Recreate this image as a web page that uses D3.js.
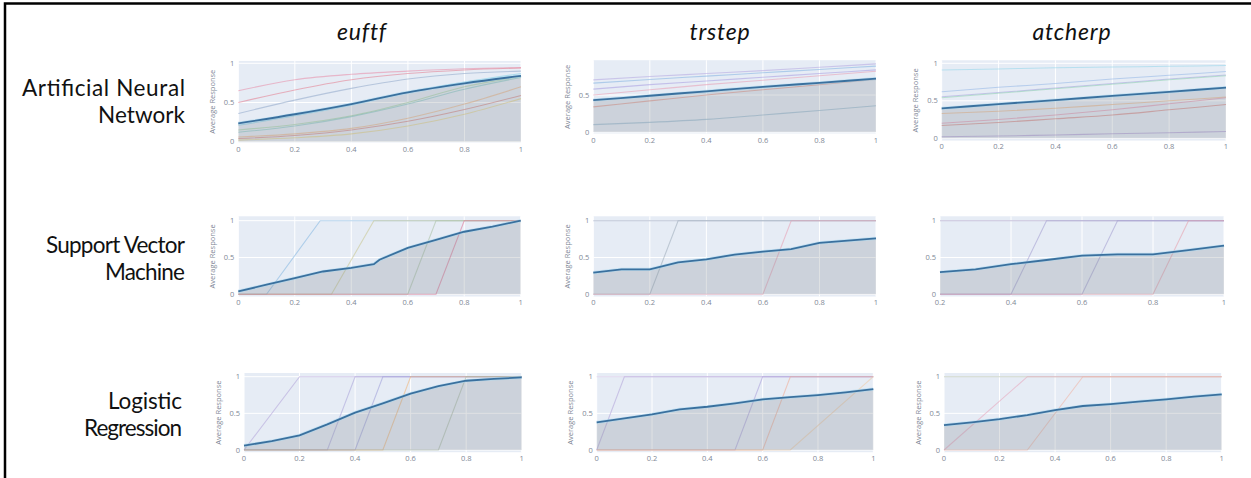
<!DOCTYPE html>
<html>
<head>
<meta charset="utf-8">
<script src="https://cdn.jsdelivr.net/npm/d3@7"></script>
<style>
  body { margin: 0; background: #ffffff; }
  svg { display: block; }
</style>
</head>
<body>
<svg id="chart"></svg>
<script>
/*
 * Data.
 */
const col_titles = ['euftf', 'trstep', 'atcherp'];
const row_titles = [['Artificial Neural', 'Network'], ['Support Vector', 'Machine'], ['Logistic', 'Regression']];

const x_ticks = [0, 0.2, 0.4, 0.6, 0.8, 1];
const x_ticks_svm_atcherp = [0.2, 0.4, 0.6, 0.8, 1];
const y_ticks = [0, 0.5, 1];
const y_ticks_ann_trstep = [0, 0.5];

const x_ann = [0, 0.2, 0.4, 0.6, 0.8, 1];
const x_tenth = [0, 0.1, 0.2, 0.3, 0.4, 0.5, 0.6, 0.7, 0.8, 0.9, 1];
const x_svm_euftf = [0, 0.1, 0.2, 0.3, 0.4, 0.48, 0.5, 0.6, 0.7, 0.8, 0.9, 1];
const x_svm_atcherp = [0.2, 0.3, 0.4, 0.5, 0.6, 0.7, 0.8, 0.9, 1];

// average response (thick line + fill)
const avg_ann_euftf = [0.234, 0.35, 0.48, 0.63, 0.745, 0.84];
const avg_ann_trstep = [0.43, 0.49, 0.55, 0.61, 0.665, 0.72];
const avg_ann_atcherp = [0.40, 0.455, 0.51, 0.565, 0.62, 0.675];
const avg_svm_euftf = [0.04, 0.13, 0.22, 0.31, 0.36, 0.41, 0.47, 0.63, 0.74, 0.85, 0.92, 1.0];
const avg_svm_trstep = [0.294, 0.34, 0.34, 0.434, 0.475, 0.54, 0.58, 0.615, 0.70, 0.73, 0.76];
const avg_svm_atcherp = [0.30, 0.34, 0.41, 0.466, 0.525, 0.543, 0.543, 0.60, 0.66];
const avg_lr_euftf = [0.06, 0.12, 0.20, 0.35, 0.51, 0.636, 0.77, 0.87, 0.945, 0.97, 0.99];
const avg_lr_trstep = [0.377, 0.43, 0.486, 0.555, 0.59, 0.636, 0.69, 0.72, 0.75, 0.786, 0.83];
const avg_lr_atcherp = [0.34, 0.377, 0.42, 0.477, 0.545, 0.60, 0.627, 0.66, 0.69, 0.727, 0.76];

// individual lines (ANN: values at x_ann)
const ice_ann_euftf = [
  [0.65, 0.79, 0.86, 0.90, 0.93, 0.945],
  [0.50, 0.66, 0.79, 0.87, 0.915, 0.94],
  [0.36, 0.53, 0.68, 0.80, 0.87, 0.90],
  [0.21, 0.33, 0.47, 0.63, 0.76, 0.87],
  [0.15, 0.22, 0.33, 0.50, 0.70, 0.83],
  [0.12, 0.20, 0.32, 0.48, 0.67, 0.82],
  [0.06, 0.10, 0.17, 0.30, 0.48, 0.70],
  [0.04, 0.08, 0.15, 0.26, 0.41, 0.59],
  [0.02, 0.05, 0.10, 0.20, 0.35, 0.55],
];
const ice_ann_trstep = [
  [0.705, 0.75, 0.79, 0.83, 0.875, 0.92],
  [0.66, 0.71, 0.755, 0.80, 0.845, 0.89],
  [0.58, 0.64, 0.69, 0.74, 0.79, 0.84],
  [0.50, 0.57, 0.64, 0.70, 0.76, 0.82],
  [0.34, 0.42, 0.50, 0.57, 0.64, 0.71],
  [0.10, 0.13, 0.17, 0.23, 0.29, 0.355],
];
const ice_ann_atcherp = [
  [0.91, 0.925, 0.94, 0.95, 0.96, 0.97],
  [0.62, 0.68, 0.73, 0.79, 0.84, 0.89],
  [0.555, 0.61, 0.67, 0.73, 0.79, 0.845],
  [0.54, 0.60, 0.66, 0.72, 0.78, 0.835],
  [0.33, 0.36, 0.40, 0.45, 0.50, 0.55],
  [0.20, 0.25, 0.31, 0.38, 0.46, 0.54],
  [0.17, 0.21, 0.26, 0.31, 0.38, 0.45],
  [0.02, 0.03, 0.045, 0.06, 0.075, 0.09],
];

// individual lines (SVM / LR: [x, y] points)
const ice_svm_euftf = [
  [[0, 0], [0.1, 0], [0.29, 1], [1, 1]],
  [[0, 0], [0.33, 0], [0.48, 1], [1, 1]],
  [[0, 0], [0.6, 0], [0.7, 1], [1, 1]],
  [[0, 0], [0.7, 0], [0.8, 1], [1, 1]],
];
const ice_svm_trstep = [
  [[0, 1], [1, 1]],
  [[0, 0], [0.2, 0], [0.3, 1], [1, 1]],
  [[0, 0], [0.6, 0], [0.7, 1], [1, 1]],
];
const ice_svm_atcherp = [
  [[0.2, 1], [1, 1]],
  [[0.2, 0], [0.4, 0], [0.5, 1], [1, 1]],
  [[0.2, 0], [0.6, 0], [0.7, 1], [1, 1]],
  [[0.2, 0], [0.8, 0], [0.9, 1], [1, 1]],
];
const ice_lr_euftf = [
  [[0, 0], [0.2, 1], [1, 1]],
  [[0, 0], [0.3, 0], [0.4, 1], [1, 1]],
  [[0, 0], [0.4, 0], [0.5, 1], [1, 1]],
  [[0, 0], [0.5, 0], [0.6, 1], [1, 1]],
  [[0, 0], [0.7, 0], [0.8, 1], [1, 1]],
];
const ice_lr_trstep = [
  [[0, 1], [1, 1]],
  [[0, 0], [0.1, 1], [1, 1]],
  [[0, 0], [0.5, 0], [0.6, 1], [1, 1]],
  [[0, 0], [0.6, 0], [0.7, 1], [1, 1]],
  [[0, 0], [0.7, 0], [1, 1]],
];
const ice_lr_atcherp = [
  [[0, 1], [1, 1]],
  [[0, 0], [0.3, 1], [1, 1]],
  [[0, 0], [0.3, 0], [0.5, 1], [1, 1]],
];

/*
 * Layout and styles.
 */
const W = 1251, H = 478;

const ice_colors = {
  ann_euftf: ['#e88aa6', '#e37a8c', '#8ea6c8', '#7fd0e6', '#9fd39a', '#7fc6c0', '#f0b07a', '#d9776f', '#e8d27a'],
  ann_trstep: ['#b3a6e0', '#7fb0e0', '#a69ae0', '#e89ab0', '#e38a7a', '#8ab0c8'],
  ann_atcherp: ['#8fd6ea', '#8fb4e6', '#a8a0e0', '#8fd6b0', '#f0b07a', '#e88aa6', '#d9776f', '#a890d0'],
  svm_euftf: ['#7fb4e0', '#c6c48a', '#a8c0a0', '#e07090'],
  svm_trstep: ['#8a9ab8', '#9aaab8', '#e89ab0'],
  svm_atcherp: ['#9a90c0', '#a09ad0', '#a09ad0', '#e89aa8'],
  lr_euftf: ['#b0a0d8', '#a8a0d8', '#9a9ad8', '#f0b070', '#a8b8a0'],
  lr_trstep: ['#c8b8e0', '#b0a0d8', '#a89ad8', '#f0a890', '#f0c8a0'],
  lr_atcherp: ['#a8b8a0', '#e8a0b8', '#f0b0a0'],
};

function make_panel(key, xs, avg, ice, ice_is_points, xt, yt) {
  return { key: key, xs: xs, avg: avg, ice: ice, ice_is_points: ice_is_points, x_ticks: xt, y_ticks: yt };
}

const panels = [
  [make_panel('ann_euftf', x_ann, avg_ann_euftf, ice_ann_euftf, false, x_ticks, y_ticks),
   make_panel('ann_trstep', x_ann, avg_ann_trstep, ice_ann_trstep, false, x_ticks, y_ticks_ann_trstep),
   make_panel('ann_atcherp', x_ann, avg_ann_atcherp, ice_ann_atcherp, false, x_ticks, y_ticks)],
  [make_panel('svm_euftf', x_svm_euftf, avg_svm_euftf, ice_svm_euftf, true, x_ticks, y_ticks),
   make_panel('svm_trstep', x_tenth, avg_svm_trstep, ice_svm_trstep, true, x_ticks, y_ticks),
   make_panel('svm_atcherp', x_svm_atcherp, avg_svm_atcherp, ice_svm_atcherp, true, x_ticks_svm_atcherp, y_ticks)],
  [make_panel('lr_euftf', x_tenth, avg_lr_euftf, ice_lr_euftf, true, x_ticks, y_ticks),
   make_panel('lr_trstep', x_tenth, avg_lr_trstep, ice_lr_trstep, true, x_ticks, y_ticks),
   make_panel('lr_atcherp', x_tenth, avg_lr_atcherp, ice_lr_atcherp, true, x_ticks, y_ticks)],
];

// pixel frame of each panel: x of first/last tick, y of value 0 and 1
const frame_left = [[238.3, 593.3, 941.7], [238.3, 593.3, 940], [244, 596.7, 944]];
const frame_right = [[521, 876, 1226], [520.7, 876, 1224], [521.7, 873.3, 1221.7]];
const frame_y0 = [[141.7, 132, 138.3], [294.3, 294.3, 294.3], [450, 450, 450]];
const frame_y1 = [[63.3, 58, 63.3], [220.7, 220.7, 220.7], [376.7, 376.7, 376.7]];
const frame_ymax = [[1.03, 0.97, 1.04], [1.06, 1.06, 1.06], [1.05, 1.05, 1.05]];
const frame_ymin = [[-0.01, -0.02, -0.03], [-0.03, -0.03, -0.03], [-0.03, -0.03, -0.03]];

const col_title_x = [362, 720, 1072];
const row_title_y = [[96, 123], [253, 280], [409, 436]];
const row_title_right = [185, 185, 182];
const row_title_width = [[163, 87], [139, 80], [74, 98]];

let svg = d3.select('#chart').attr('width', W).attr('height', H);

svg.append('rect').attr('width', W).attr('height', H).style('fill', '#ffffff');

/*
 * Frame lines (top and left only).
 */
svg.append('path')
  .attr('d', 'M5,' + H + ' V3.5 H' + W)
  .style('fill', 'none')
  .style('stroke', '#000000')
  .style('stroke-width', 2.5);

/*
 * Column and row titles.
 */
col_titles.forEach((t, i) => {
  svg.append('text')
    .attr('x', col_title_x[i])
    .attr('y', 40)
    .attr('text-anchor', 'middle')
    .style('font-family', 'Lato, "Open Sans", sans-serif')
    .style('font-style', 'italic')
    .style('font-size', '23px')
    .style('letter-spacing', '0.8px')
    .style('fill', '#111111')
    .text(t);
});

row_titles.forEach((lines, r) => {
  lines.forEach((t, j) => {
    svg.append('text')
      .attr('x', row_title_right[r])
      .attr('y', row_title_y[r][j])
      .attr('text-anchor', 'end')
      .attr('textLength', row_title_width[r][j])
      .attr('lengthAdjust', 'spacing')
      .style('font-family', 'Lato, "Open Sans", sans-serif')
      .style('font-size', '22.5px')
      .style('fill', '#111111')
      .text(t);
  });
});

/*
 * Panels.
 */
function draw_panel(r, c) {
  let p = panels[r][c];
  let x_lo = p.x_ticks[0];
  let x = d3.scaleLinear().domain([x_lo, 1]).range([frame_left[r][c], frame_right[r][c]]);
  let y = d3.scaleLinear().domain([0, 1]).range([frame_y0[r][c], frame_y1[r][c]]);
  let top = y(frame_ymax[r][c]);
  let bot = y(frame_ymin[r][c]);

  let g = svg.append('g');

  g.append('rect')
    .attr('x', x(x_lo))
    .attr('y', top)
    .attr('width', x(1) - x(x_lo))
    .attr('height', bot - top)
    .style('fill', '#e6ecf5');

  // grid
  g.selectAll('.vgrid').data(p.x_ticks).join('line')
    .attr('x1', d => x(d)).attr('x2', d => x(d))
    .attr('y1', top).attr('y2', bot)
    .style('stroke', '#ffffff').style('stroke-width', 1);
  g.selectAll('.hgrid').data(p.y_ticks).join('line')
    .attr('x1', x(x_lo)).attr('x2', x(1))
    .attr('y1', d => y(d)).attr('y2', d => y(d))
    .style('stroke', '#ffffff').style('stroke-width', 1);

  // individual lines
  let colors = ice_colors[p.key];
  let ice_pts = p.ice.map(s => p.ice_is_points ? s : s.map((v, i) => [p.xs[i], v]));
  let curve = p.ice_is_points ? d3.curveLinear : d3.curveMonotoneX;
  let line = d3.line().x(d => x(d[0])).y(d => y(d[1])).curve(curve);

  ice_pts.forEach((s, i) => {
    g.append('path')
      .attr('d', line(s))
      .style('fill', 'none')
      .style('stroke', colors[i % colors.length])
      .style('stroke-width', 1.1)
      .style('opacity', 0.55);
  });

  // average with fill to zero
  let avg_pts = p.avg.map((v, i) => [p.xs[i], v]);
  let area = d3.area().x(d => x(d[0])).y0(y(0)).y1(d => y(d[1])).curve(curve);

  g.append('path')
    .attr('d', area(avg_pts))
    .style('fill', '#7b8089')
    .style('opacity', 0.24);

  g.append('path')
    .attr('d', line(avg_pts))
    .style('fill', 'none')
    .style('stroke', '#a8d8f0')
    .style('stroke-width', 3.2)
    .style('opacity', 0.55);

  g.append('path')
    .attr('d', line(avg_pts))
    .style('fill', 'none')
    .style('stroke', '#3a709e')
    .style('stroke-width', 1.8);

  // tick labels
  g.selectAll('.xt').data(p.x_ticks).join('text')
    .attr('x', d => x(d))
    .attr('y', frame_y0[r][c] + 10.5)
    .attr('text-anchor', 'middle')
    .style('font-family', '"Open Sans", sans-serif')
    .style('font-size', '7.5px')
    .style('fill', '#808896')
    .text(d => d3.format('~g')(d));

  g.selectAll('.yt').data(p.y_ticks).join('text')
    .attr('x', x(x_lo) - 4)
    .attr('y', d => y(d) + 2.6)
    .attr('text-anchor', 'end')
    .style('font-family', '"Open Sans", sans-serif')
    .style('font-size', '7.5px')
    .style('fill', '#808896')
    .text(d => d3.format('~g')(d));

  if (p.key != 'svm_atcherp') {
    let cy = (top + bot) / 2;
    let cx = x(x_lo) - 26;
    g.append('text')
      .attr('transform', 'translate(' + cx + ',' + cy + ') rotate(-90)')
      .attr('text-anchor', 'middle')
      .attr('dy', '0.35em')
      .style('font-family', '"Open Sans", sans-serif')
      .style('font-size', '7.5px')
      .style('fill', '#808896')
      .text('Average Response');
  }
}

for (let r = 0; r < 3; r++)
  for (let c = 0; c < 3; c++)
    draw_panel(r, c);
</script>
</body>
</html>
